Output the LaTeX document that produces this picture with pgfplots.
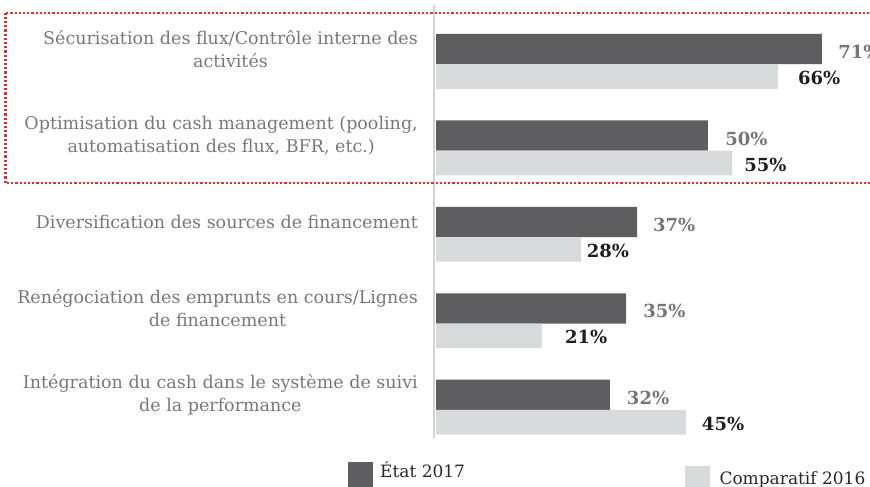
\documentclass[border=0pt]{standalone}
\usepackage{pgfplots}
\pgfplotsset{compat=1.18}
\usepackage{fontspec}
\setmainfont{DejaVu Serif}
\definecolor{darkbar}{RGB}{94,94,96}
\definecolor{lightbar}{RGB}{217,218,220}
\definecolor{cattext}{RGB}{120,120,120}
\definecolor{lab17}{RGB}{118,118,118}
\definecolor{lab16}{RGB}{30,30,30}
\definecolor{boxred}{RGB}{230,45,45}
\definecolor{axisgray}{RGB}{212,212,212}
\definecolor{legtext}{RGB}{40,40,40}
\begin{document}
\begin{tikzpicture}[x=1pt,y=1pt]
\useasboundingbox (0,0) rectangle (870,487);
\clip (0,0) rectangle (870,487);
\begin{axis}[
  at={(434pt,49pt)}, anchor=south west,
  scale only axis, width=436pt, height=433pt,
  xmin=-0.368, xmax=79.85,
  ymin=-0.654, ymax=4.355, y dir=reverse,
  clip=false,
  axis x line=none,
  axis y line*=left,
  y axis line style={axisgray, line width=2.5pt, -},
  ytick={-0.144,0.856,1.856,2.856,3.856},
  yticklabels={{Sécurisation des flux/Contrôle interne des\\activités},
               {Optimisation du cash management (pooling,\\automatisation des flux, BFR, etc.)},
               {Diversification des sources de financement},
               {Renégociation des emprunts en cours/Lignes\\de financement},
               {Intégration du cash dans le système de suivi\\de la performance}},
  major tick length=0pt,
  ytick style={draw=none},
  yticklabel style={font=\fontsize{17.5}{23}\selectfont, text=cattext, align=center, inner sep=0pt, anchor=east, xshift=-16pt},
]
\addplot[xbar, fill=darkbar, draw=none, bar width=0.350, bar shift=-0.144]
  coordinates {(71,0) (50,1) (37,2) (35,3) (32,4)};
\addplot[xbar, fill=lightbar, draw=none, bar width=0.285, bar shift=0.1735]
  coordinates {(62.9,0) (54.5,1) (26.7,2) (19.5,3) (46.0,4)};
\addplot[only marks, mark=none, nodes near coords, point meta=explicit symbolic,
  nodes near coords style={anchor=west, inner sep=0pt, font=\fontsize{18}{18}\selectfont\bfseries, text=lab17, yshift=-3pt}]
  coordinates {(74.0,-0.144)[71\%] (53.2,0.856)[50\%] (39.9,1.856)[37\%] (38.1,2.856)[35\%] (35.1,3.856)[32\%]};
\addplot[only marks, mark=none, nodes near coords, point meta=explicit symbolic,
  nodes near coords style={anchor=west, inner sep=0pt, font=\fontsize{18}{18}\selectfont\bfseries, text=lab16, yshift=-1.5pt}]
  coordinates {(66.6,0.1735)[66\%] (56.7,1.1735)[55\%] (27.7,2.1735)[28\%] (23.7,3.1735)[21\%] (48.9,4.1735)[45\%]};
\end{axis}
\draw[boxred, line width=2.2pt, dash pattern=on 2.2pt off 2pt] (5.5,474.3) rectangle (880,303.7);
\fill[darkbar] (347.7,0.3) rectangle (372.7,25.3);
\node[anchor=base west, inner sep=0pt, text=legtext, font=\fontsize{17}{17}\selectfont] at (380,9.3) {État 2017};
\fill[lightbar] (685,-4) rectangle (710,21);
\node[anchor=base west, inner sep=0pt, text=legtext, font=\fontsize{17}{17}\selectfont] at (719.3,2) {Comparatif 2016};
\end{tikzpicture}
\end{document}
